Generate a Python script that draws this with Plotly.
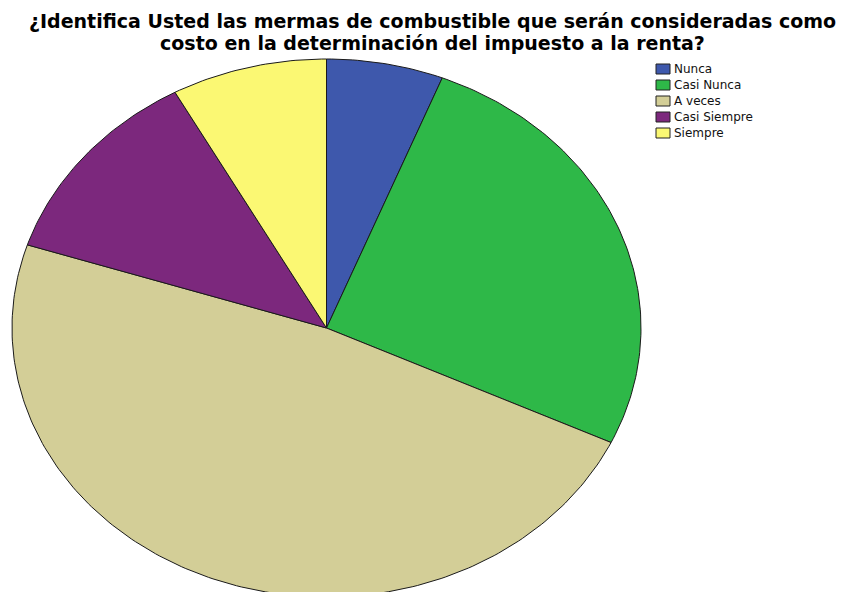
import numpy as np
import plotly.graph_objects as go

# Survey responses
categories = ["Nunca", "Casi Nunca", "A veces", "Casi Siempre", "Siempre"]
counts = [3, 13, 24, 6, 4]
colors = ["#3E58AC", "#2EB848", "#D3CE97", "#7C287D", "#FBF873"]

title_lines = [
    "¿Identifica Usted las mermas de combustible que serán consideradas como",
    "costo en la determinación del impuesto a la renta?",
]

W, H = 842, 592
CX, CY = 326.5, 328.0   # pie centre (page pixels)
RX, RY = 314.5, 269.0   # elliptical radii

fig = go.Figure()

total = float(sum(counts))
start = 0.0
for name, val, col in zip(categories, counts, colors):
    frac = val / total
    t = np.linspace(start, start + frac, max(8, int(400 * frac))) * 2 * np.pi
    xs = np.concatenate([[CX], CX + RX * np.sin(t), [CX]])
    ys = np.concatenate([[CY], CY - RY * np.cos(t), [CY]])
    fig.add_trace(go.Scatter(
        x=xs, y=ys, mode="lines", fill="toself", fillcolor=col,
        line=dict(color="#1a1a1a", width=1), name=name,
        hoverinfo="text", text=f"{name}: {val}", showlegend=False,
    ))
    start += frac

# Legend drawn as small swatches with labels
LX, LY, DY = 656, 69, 16
for i, (name, col) in enumerate(zip(categories, colors)):
    yc = LY + i * DY
    fig.add_shape(type="rect", xref="x", yref="y",
                  x0=LX, x1=LX + 14, y0=yc - 5, y1=yc + 5,
                  fillcolor=col, line=dict(color="#222", width=1))
    fig.add_annotation(x=LX + 16, y=yc, xref="x", yref="y", text=name,
                       showarrow=False, xanchor="left", yanchor="middle",
                       font=dict(family="DejaVu Sans", size=12, color="#111"))

# Two-line bold title
for i, line in enumerate(title_lines):
    fig.add_annotation(x=432, y=21 + i * 22, xref="x", yref="y", text=f"<b>{line}</b>",
                       showarrow=False, xanchor="center", yanchor="middle",
                       font=dict(family="DejaVu Sans", size=19, color="#000"))

fig.update_layout(
    width=W, height=H,
    margin=dict(l=0, r=0, t=0, b=0),
    paper_bgcolor="white", plot_bgcolor="white",
    xaxis=dict(range=[0, W], visible=False, fixedrange=True),
    yaxis=dict(range=[H, 0], visible=False, fixedrange=True),
    showlegend=False,
)

fig.write_html("out.html")
